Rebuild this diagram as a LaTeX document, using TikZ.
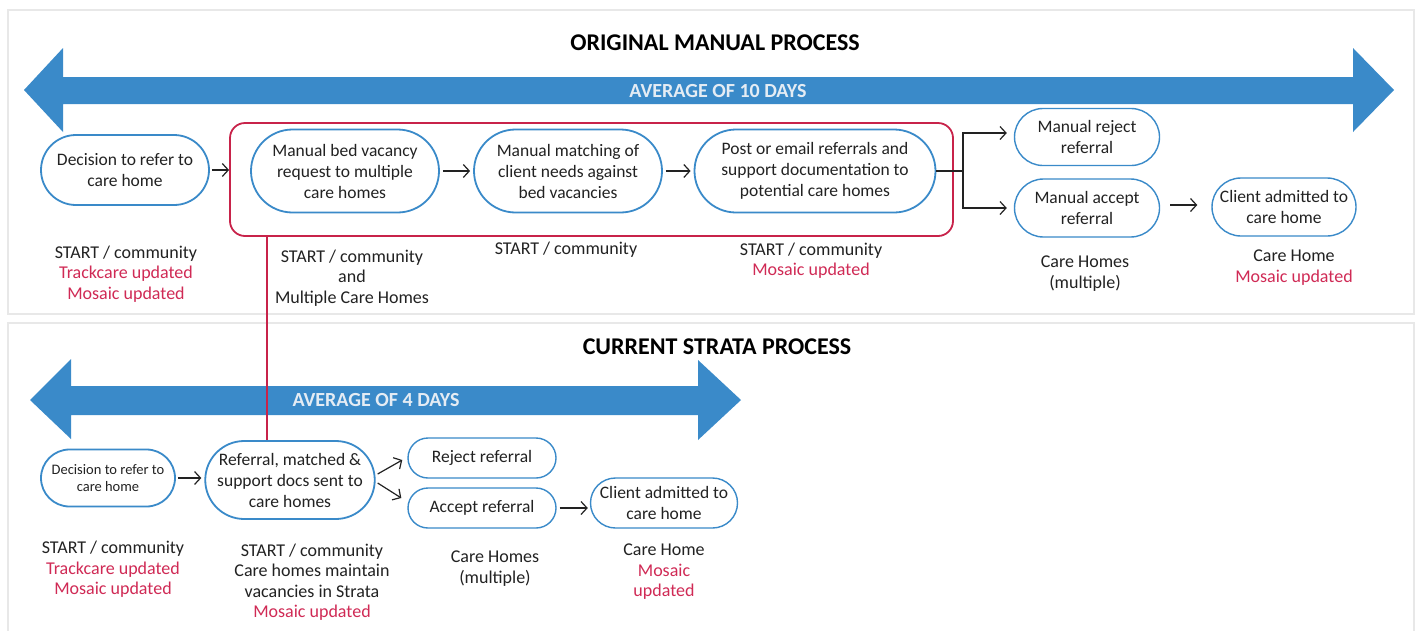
\documentclass[tikz,border=0pt]{standalone}
\usepackage{fontspec}
\setmainfont{Carlito}
\usetikzlibrary{arrows.meta,shapes.misc}
\definecolor{procblue}{HTML}{3A8AC9}
\definecolor{procred}{HTML}{C8234A}
\definecolor{notered}{HTML}{D02A55}
\definecolor{panelgray}{HTML}{E8E8E8}
\definecolor{inkgray}{HTML}{222222}
\definecolor{daytext}{HTML}{E4ECF4}
\newcommand{\upd}[1]{\textcolor{notered}{#1}}
\begin{document}
\begin{tikzpicture}[x=1pt,y=-1pt,
  font=\fontsize{17.5}{21}\selectfont, text=inkgray,
  proc/.style={rounded rectangle, draw=procblue, line width=1.8pt, align=center, inner sep=1pt},
  smallproc/.style={proc, line width=1.4pt},
  note/.style={align=center, font=\fontsize{18}{20.5}\selectfont},
  heading/.style={font=\fontsize{24}{26}\selectfont\bfseries, text=black},
  days/.style={font=\fontsize{20}{22}\selectfont\bfseries, text=daytext},
  flow/.style={draw=inkgray, line width=1.2pt, -{Straight Barb[length=6pt,width=13pt]}},
  panel/.style={draw=panelgray, line width=2pt}]
  \useasboundingbox (0,0) rectangle (1416,630);
  \fill[white] (0,0) rectangle (1416,630);

  % panels
  \draw[panel] (8,10) rectangle (1414,314);
  \draw[panel] (8,323) rectangle (1414,640);

  % original manual process
  \node[heading] (toptitle) at (715,43) {ORIGINAL MANUAL PROCESS};
  \fill[procblue] (24,90) -- (63,48) -- (63,77) -- (1353,77) -- (1353,48) -- (1394,90)
    -- (1353,132) -- (1353,104) -- (63,104) -- (63,132) -- cycle;
  \node[days] (topdays) at (718,91) {AVERAGE OF 10 DAYS};

  \node[draw=procred, line width=1.8pt, rounded corners=15pt,
    minimum width=723pt, minimum height=113pt] (grp) at (591.5,179.5) {};
  \node[proc, minimum width=170pt, minimum height=70pt] (decide) at (125,170) {Decision to refer to\\care home};
  \node[proc, minimum width=190pt, minimum height=83pt] (request) at (345,171) {Manual bed vacancy\\request to multiple\\care homes};
  \node[proc, minimum width=190pt, minimum height=83pt] (match) at (568,171) {Manual matching of\\client needs against\\bed vacancies};
  \node[proc, minimum width=243pt, minimum height=83pt] (post) at (815,171) {Post or email referrals and\\support documentation to\\potential care homes};
  \node[smallproc, minimum width=147pt, minimum height=57pt] (reject) at (1087,137) {Manual reject\\referral};
  \node[smallproc, minimum width=147pt, minimum height=58pt] (accept) at (1087,208) {Manual accept\\referral};
  \node[smallproc, minimum width=146pt, minimum height=58pt] (admit) at (1284,207) {Client admitted to\\care home};
  \coordinate (fork) at (963,171);

  \draw[flow, shorten <=2pt] (decide.east) -- (decide.east -| grp.west);
  \draw[flow, shorten <=3pt, shorten >=3pt] (request.east) -- (match.west);
  \draw[flow, shorten <=3pt, shorten >=3pt] (match.east) -- (post.west);
  \draw[draw=inkgray, line width=1.2pt] (post.east) -- (fork);
  \draw[flow, shorten >=7pt] (fork) |- ([yshift=4pt]reject.west);
  \draw[flow, shorten >=7pt] (fork) |- (accept.west);
  \draw[flow, shorten <=10pt, shorten >=14pt] ([yshift=3pt]accept.east) -- ([yshift=3pt]accept.east -| admit.west);

  \node[note] (decidenote) at (126,274) {START / community\\\upd{Trackcare updated}\\\upd{Mosaic updated}};
  \node[note] (requestnote) at (352,278) {START / community\\and\\Multiple Care Homes};
  \node[note] (matchnote) at (566,250) {START / community};
  \node[note] (postnote) at (811,260.5) {START / community\\\upd{Mosaic updated}};
  \node[note] (acceptnote) at (1085,273.5) {Care Homes\\(multiple)};
  \node[note] (admitnote) at (1294,267.5) {Care Home\\\upd{Mosaic updated}};

  % current strata process
  \node[heading] (bottitle) at (717,347) {CURRENT STRATA PROCESS};
  \fill[procblue] (30,400) -- (71,359) -- (71,386) -- (698,386) -- (698,360) -- (741,400)
    -- (698,440) -- (698,415) -- (71,415) -- (71,439) -- cycle;
  \node[days] (botdays) at (376,400) {AVERAGE OF 4 DAYS};

  \node[proc, minimum width=136pt, minimum height=57pt, font=\fontsize{14.5}{17}\selectfont] (sdecide) at (108,478) {Decision to refer to\\care home};
  \node[proc, minimum width=165pt, minimum height=78pt] (sref) at (290,480) {Referral, matched \&\\support docs sent to\\care homes};
  \node[smallproc, minimum width=150pt, minimum height=40pt] (sreject) at (482,458) {Reject referral};
  \node[smallproc, minimum width=150pt, minimum height=40pt] (saccept) at (482,508) {Accept referral};
  \node[smallproc, minimum width=149pt, minimum height=50pt] (sadmit) at (664,503) {Client admitted to\\care home};

  \draw[procred, line width=1.6pt] ([xshift=38pt]grp.south west) -- ([xshift=38pt]grp.south west |- sref.north);

  \draw[flow, shorten <=2pt, shorten >=3pt] (sdecide.east) -- (sdecide.east -| sref.west);
  \draw[flow] ([shift={(2,-6)}]sref.east) -- ([shift={(-5,2)}]sreject.west);
  \draw[flow] ([shift={(2,3)}]sref.east) -- ([shift={(-6,-10)}]saccept.west);
  \draw[flow, shorten <=3pt, shorten >=2pt] (saccept.east) -- (saccept.east -| sadmit.west);

  \node[note] (sdecidenote) at (113,569.5) {START / community\\\upd{Trackcare updated}\\\upd{Mosaic updated}};
  \node[note] (srefnote) at (312,582) {START / community\\Care homes maintain\\vacancies in Strata\\\upd{Mosaic updated}};
  \node[note] (sacceptnote) at (495,568.5) {Care Homes\\(multiple)};
  \node[note] (sadmitnote) at (664,572) {Care Home\\\upd{Mosaic}\\\upd{updated}};
\end{tikzpicture}
\end{document}
